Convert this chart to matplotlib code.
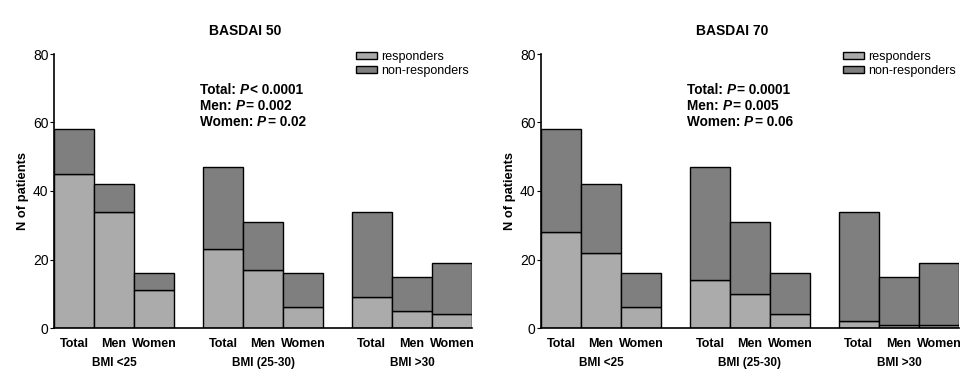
import matplotlib
matplotlib.use("Agg")
import matplotlib.pyplot as plt
import matplotlib.transforms as mtransforms
from matplotlib.patches import Patch

plt.rcParams["font.family"] = "Liberation Sans"

LIGHT, DARK = "#ababab", "#7f7f7f"

groups = ["BMI <25", "BMI (25-30)", "BMI >30"]
subs = ["Total", "Men", "Women"]
# totals per bar (group-major order)
totals = [58, 42, 16, 47, 31, 16, 34, 15, 19]
resp_50 = [45, 34, 11, 23, 17, 6, 9, 5, 4]
resp_70 = [28, 22, 6, 14, 10, 4, 2, 1, 1]
titles = ["BASDAI 50", "BASDAI 70"]
pvals_50 = [("Total: ", "< 0.0001"), ("Men: ", "= 0.002"), ("Women: ", "= 0.02")]
pvals_70 = [("Total: ", "= 0.0001"), ("Men: ", "= 0.005"), ("Women: ", "= 0.06")]

GAP = 0.715
lefts = [g * (3 + GAP) + i for g in range(3) for i in range(3)]

W, H = 974, 389
fig = plt.figure(figsize=(W / 100, H / 100), dpi=100)
renderer = fig.canvas.get_renderer()


def rich_line(xpx, ypx, lead, tail):
    # "lead" bold, italic bold P, then "tail" bold
    x = xpx
    for s, style, extra in ((lead, "normal", 0), ("P", "italic", 1.5), (tail, "normal", 0)):
        t = fig.text(x / W, 1 - ypx / H, s, ha="left", va="center", fontsize=9.8,
                     fontweight="bold", fontstyle=style)
        x += t.get_window_extent(renderer).width + extra


def panel(x0, resp, title, pvals):
    ax = fig.add_axes([x0 / W, 61 / H, 418 / W, 274 / H])
    nonresp = [t - r for t, r in zip(totals, resp)]
    ax.bar(lefts, resp, width=1, align="edge", color=LIGHT, edgecolor="black", linewidth=1)
    ax.bar(lefts, nonresp, bottom=resp, width=1, align="edge", color=DARK,
           edgecolor="black", linewidth=1)
    ax.set_xlim(0, lefts[-1] + 1)
    ax.set_ylim(0, 80)
    ax.set_yticks([0, 20, 40, 60, 80])
    ax.spines[["top", "right"]].set_visible(False)
    ax.spines["left"].set_linewidth(1.2)
    ax.spines["bottom"].set_linewidth(1.2)
    ax.tick_params(axis="y", length=3, labelsize=10, pad=1)
    ax.set_xticks([l + 0.5 for l in lefts])
    ax.set_xticklabels(subs * 3, fontsize=9, fontweight="bold")
    ax.tick_params(axis="x", length=0, pad=7)
    ax.set_ylabel("N of patients", fontsize=9.3, fontweight="bold", labelpad=3)
    trans = mtransforms.blended_transform_factory(ax.transData, ax.transAxes)
    for g, name in enumerate(groups):
        ax.text(lefts[3 * g] + 1.5, -0.128, name, transform=trans, ha="center",
                va="center", fontsize=8.5, fontweight="bold")
    fig.text((x0 + 191) / W, 1 - 31 / H, title, ha="center", va="center",
             fontsize=10, fontweight="bold")
    for i, (lead, tail) in enumerate(pvals):
        rich_line(x0 + 146, 90 + 15.8 * i, lead, tail)
    handles = [Patch(facecolor=LIGHT, edgecolor="black", label="responders"),
               Patch(facecolor=DARK, edgecolor="black", label="non-responders")]
    ax.legend(handles=handles, loc="upper left", bbox_to_anchor=((x0 + 302) / W, 1 - 51 / H),
              bbox_transform=fig.transFigure, frameon=False, fontsize=9,
              handlelength=1.7, handleheight=0.5, handletextpad=0.3, labelspacing=0.15,
              borderpad=0, borderaxespad=0)
    return ax


panel(54, resp_50, titles[0], pvals_50)
panel(541, resp_70, titles[1], pvals_70)

fig.savefig("out.png", dpi=100, facecolor="white")
